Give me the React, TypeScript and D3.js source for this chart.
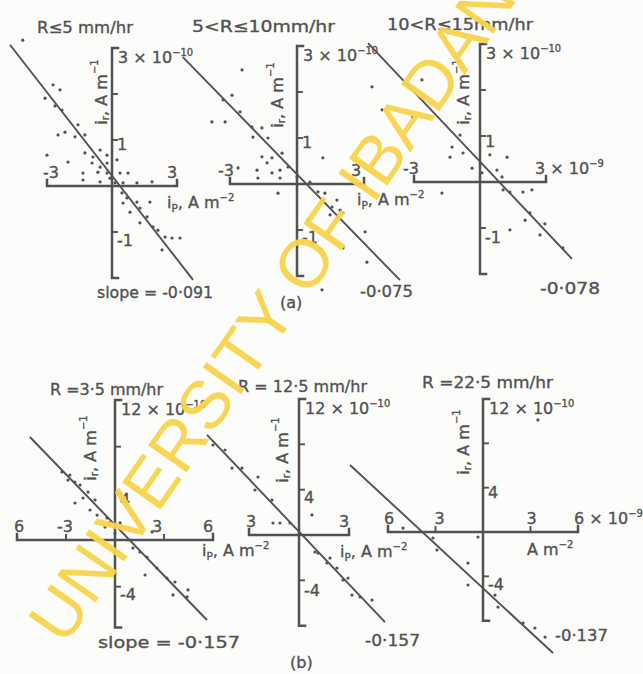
import React from 'react';
import * as d3 from 'd3';

type Pt = [number, number];

// i_r against i_p; x in units of 1e-9 A m^-2, y in units of 1e-10
const ptsA1: Pt[] = [
  [-4.12, 3.17], [-2.72, 2.2], [-2.4, 2.09], [-3.09, 1.91], [-2.63, 1.74], [-2.31, 1.65],
  [-1.57, 1.33], [-2.49, 1.11], [-2.17, 1.17], [-1.71, 1.07], [-1.25, 1.11], [-3.0, 0.67],
  [-2.03, 0.52], [-1.25, 0.72], [-0.88, 0.63], [-0.55, 0.78], [-0.23, 0.67], [-0.92, 0.5],
  [-0.55, 0.41], [-0.23, 0.5], [-0.65, 0.3], [0.23, 0.57], [-0.23, 0.28], [-0.09, 0.17],
  [0.37, 0.28], [0.74, 0.28], [-1.34, 0.28], [-1.34, 0.13], [-0.55, 0.09], [0.14, 0.07],
  [0.51, 0.07], [1.15, 0.07], [1.85, 0.09], [0.46, -0.15], [0.69, -0.26], [1.15, -0.35],
  [1.75, -0.35], [0.51, -0.37], [0.83, -0.57], [1.29, -0.48], [1.62, -0.67], [1.29, -0.8],
  [1.89, -0.89], [2.12, -0.96], [2.45, -1.11], [2.77, -1.13], [3.14, -1.13], [2.31, -1.39],
];
const ptsA2: Pt[] = [
  [-2.46, 2.48], [-2.91, 1.93], [-3.31, 1.83], [-3.81, 1.35], [-3.22, 1.35], [-2.55, 1.57],
  [-2.02, 1.24], [-1.57, 1.22], [-1.3, 1.0], [-1.97, 1.02], [-2.64, 0.35], [-1.57, 0.59],
  [-1.34, 0.46], [-1.12, 0.57], [-0.67, 0.67], [-1.79, 0.3], [-1.12, 0.24], [-0.76, 0.3],
  [-0.4, 0.37], [-1.75, 0.13], [-0.76, 0.13], [0.0, 0.15], [1.16, 0.57], [0.58, 0.04],
  [-0.85, -0.2], [0.94, -0.17], [1.25, -0.2], [1.79, -0.35], [1.57, -0.5], [1.93, -0.57],
  [1.48, -0.67], [1.84, -0.72], [2.06, -0.63], [0.49, -0.78], [3.05, -1.04], [2.06, -1.39],
  [3.13, -1.7], [1.12, -2.3],
];
const ptsA3: Pt[] = [
  [-4.91, 2.07], [-4.45, 1.57], [-3.05, 1.41], [-2.64, 2.22], [-1.27, 0.76], [-1.36, 0.54],
  [-0.77, 0.63], [-0.91, 1.02], [-0.36, 0.3], [0.09, 0.2], [0.45, 0.59], [1.23, 0.54],
  [0.77, 0.26], [1.0, 0.11], [1.05, -0.17], [1.36, -0.22], [1.95, -0.22], [2.36, -0.17],
  [-1.73, -0.24], [2.27, -0.67], [2.05, -0.83], [2.95, -0.91], [2.73, -1.15], [3.77, -1.43],
  [1.36, -1.04],
];
const ptsB1: Pt[] = [
  [-3.25, 5.83], [-2.76, 5.57], [-2.45, 4.97], [-2.14, 4.71], [-2.88, 5.14], [-1.65, 4.11],
  [-2.45, 3.17], [-1.96, 3.6], [-1.22, 3.43], [-1.53, 2.57], [-1.1, 2.14], [-0.49, 1.89],
  [-0.61, 1.11], [-0.31, 1.46], [0.31, 1.46], [0.0, 0.6], [1.35, 1.71], [2.27, 0.69],
  [1.1, -0.69], [1.53, -1.03], [1.96, -1.46], [1.84, -3.0], [2.57, -2.4], [3.18, -3.26],
  [3.67, -3.6], [3.55, -4.71], [4.47, -4.28], [4.41, -4.88],
];
const ptsB2: Pt[] = [
  [-5.16, 7.94], [-4.44, 7.5], [-4.02, 5.91], [-3.42, 5.91], [-2.46, 5.12], [-2.64, 3.97],
  [-1.62, 3.09], [-1.56, 1.06], [-1.14, 1.06], [-0.54, 1.06], [0.78, 1.77], [0.96, -1.5],
  [1.14, -1.59], [1.86, -2.03], [1.68, -2.47], [2.28, -2.91], [2.64, -3.97], [2.94, -3.8],
  [3.18, -5.3], [3.66, -5.47], [4.38, -5.74],
];
const ptsB3: Pt[] = [
  [-5.05, 0.36], [-3.16, -0.54], [-2.91, -1.62], [-0.95, -2.8], [-0.95, -4.78], [-0.32, -0.45],
  [0.76, -5.69], [0.95, -6.77], [2.53, -8.21], [3.28, -8.66], [3.92, -9.48], [3.47, 10.11],
];

// fitted regression lines, end points in the same units
const fitA1: Pt[] = [[-4.71, 3.07], [3.74, -2.04]];
const fitA2: Pt[] = [[-5.11, 2.76], [4.61, -2.09]];
const fitA3: Pt[] = [[-5.09, 3.02], [4.18, -1.67]];
const fitB1: Pt[] = [[-5.21, 8.83], [5.63, -6.86]];
const fitB2: Pt[] = [[-5.52, 8.83], [5.16, -7.68]];
const fitB3: Pt[] = [[-8.4, 6.05], [4.42, -10.92]];

const titles = ['R\u22645 mm/hr', '5<R\u226410mm/hr', '10<R\u226415mm/hr', 'R =3\u00b75 mm/hr', 'R = 12\u00b75 mm/hr', 'R =22\u00b75 mm/hr'];
const slopeTexts = ['slope = -0\u00b7091', '-0\u00b7075', '-0\u00b7078', 'slope =  -0\u00b7157', '-0\u00b7157', '-0\u00b7137'];

type TL = { v: number; t: string; sup?: string };
const yTicksA = [2, 1, -1];
const yTicksB = [8, 4, -4];
const yLabelsA: TL[] = [{ v: 1, t: '1' }, { v: -1, t: '-1' }];
const yLabelsB: TL[] = [{ v: 4, t: '4' }, { v: -4, t: '-4' }];
const yTopA: TL = { v: 3, t: '3 \u00d7 10', sup: '\u221210' };
const yTopB: TL = { v: 12, t: '12 \u00d7 10', sup: '\u221210' };
const xLabelsA: TL[] = [{ v: -3, t: '-3' }, { v: 3, t: '3' }];
const xLabelsA3: TL[] = [{ v: -3, t: '-3' }, { v: 3, t: '3 \u00d7 10', sup: '\u22129' }];
const xTicksB13 = [-3, 3];
const xLabelsB1: TL[] = [{ v: -6, t: '6' }, { v: -3, t: '-3' }, { v: 3, t: '3' }, { v: 6, t: '6' }];
const xLabelsB2: TL[] = [{ v: -3, t: '3' }, { v: 3, t: '3' }];
const xLabelsB3: TL[] = [{ v: -6, t: '6' }, { v: -3, t: '3' }, { v: 3, t: '3' }, { v: 6, t: '6 \u00d7 10', sup: '\u22129' }];

const INK = '#525252';
const FONT = 'DejaVu Sans, sans-serif';
const FS = 16;
const TEXT_STYLE = { stroke: INK, strokeWidth: 0.35 };

type Layout = {
  xd: [number, number]; xr: [number, number];
  yd: [number, number]; yr: [number, number];
  pts: Pt[]; fit: Pt[];
  title: string; tx: number; ty: number; tw: number;
  slope: string; sx: number; sy: number; sw: number;
  yl: [number, number]; xl?: { x: number; y: number; full: boolean };
  yTicks: number[]; yLabels: TL[]; yTop: TL;
  xTicks: number[]; xLabels: TL[]; xdx: number[];
  ylOff: number[];
};

const panels: Layout[] = [
  { xd: [-3, 3], xr: [47, 177], yd: [-2, 3], yr: [278, 48], pts: ptsA1, fit: fitA1,
    title: titles[0], tx: 37, ty: 33, tw: 96, slope: slopeTexts[0], sx: 97, sy: 298, sw: 116,
    yl: [101, 92], xl: { x: 167, y: 208, full: true }, yTicks: yTicksA, yLabels: yLabelsA, yTop: yTopA,
    xTicks: [], xLabels: xLabelsA, xdx: [4, -5], ylOff: [10, 14] },
  { xd: [-3, 3], xr: [230, 364], yd: [-2, 3], yr: [276, 46], pts: ptsA2, fit: fitA2,
    title: titles[1], tx: 192, ty: 32, tw: 143, slope: slopeTexts[1], sx: 360, sy: 297, sw: 53,
    yl: [277, 95], xl: { x: 357, y: 205, full: true }, yTicks: yTicksA, yLabels: yLabelsA, yTop: yTopA,
    xTicks: [], xLabels: xLabelsA, xdx: [-4, -8], ylOff: [10, 13] },
  { xd: [-3, 3], xr: [414, 546], yd: [-2, 3], yr: [274, 44], pts: ptsA3, fit: fitA3,
    title: titles[2], tx: 387, ty: 30, tw: 146, slope: slopeTexts[2], sx: 540, sy: 294, sw: 60,
    yl: [463, 92], yTicks: yTicksA, yLabels: yLabelsA, yTop: yTopA,
    xTicks: [], xLabels: xLabelsA3, xdx: [-3, -11], ylOff: [11, 15] },
  { xd: [-6, 6], xr: [17, 213], yd: [-7.5, 12], yr: [627.5, 400], pts: ptsB1, fit: fitB1,
    title: titles[3], tx: 50, ty: 395, tw: 113, slope: slopeTexts[3], sx: 98, sy: 648, sw: 142,
    yl: [90, 448], xl: { x: 202, y: 556, full: true }, yTicks: yTicksB, yLabels: yLabelsB, yTop: yTopB,
    xTicks: xTicksB13, xLabels: xLabelsB1, xdx: [2, -1, -7, -5], ylOff: [12, 13] },
  { xd: [-3, 3], xr: [249, 349], yd: [-8, 12], yr: [625.7, 399], pts: ptsB2, fit: fitB2,
    title: titles[4], tx: 238, ty: 392, tw: 129, slope: slopeTexts[4], sx: 365, sy: 646, sw: 55,
    yl: [282, 450], xl: { x: 340, y: 557, full: true }, yTicks: yTicksB, yLabels: yLabelsB, yTop: yTopB,
    xTicks: [], xLabels: xLabelsB2, xdx: [2, -5], ylOff: [13, 16] },
  { xd: [-6, 6], xr: [388, 578], yd: [-8, 12], yr: [620.7, 399], pts: ptsB3, fit: fitB3,
    title: titles[5], tx: 422, ty: 388, tw: 131, slope: slopeTexts[5], sx: 555, sy: 641, sw: 53,
    yl: [463, 442], xl: { x: 527, y: 555, full: false }, yTicks: yTicksB, yLabels: yLabelsB, yTop: yTopB,
    xTicks: xTicksB13, xLabels: xLabelsB3, xdx: [1, 4, 1, -4], ylOff: [10, 14] },
];

function Sup({ x, y, l, anchor = 'middle' }: { x: number; y: number; l: TL; anchor?: string }) {
  return (
    <text x={x} y={y} fontSize={FS} textAnchor={anchor} fill={INK} fontFamily={FONT} style={TEXT_STYLE}>
      {l.t}
      {l.sup && <tspan dy={-7} fontSize={FS * 0.62}>{l.sup}</tspan>}
    </text>
  );
}

function Panel({ p }: { p: Layout }) {
  const x = d3.scaleLinear().domain(p.xd).range(p.xr);
  const y = d3.scaleLinear().domain(p.yd).range(p.yr);
  const x0 = x(0);
  const y0 = y(0);
  const line = d3.line<Pt>().x((d) => x(d[0])).y((d) => y(d[1]));
  const yTopPx = y(p.yd[1]);
  const yBotPx = y(p.yd[0]);
  const xl = x(p.xd[0]);
  const xr = x(p.xd[1]);
  return (
    <g>
      <g stroke={INK} strokeWidth={2.5} fill="none" strokeLinecap="square">
        <path d={`M${x0 + 6},${yTopPx}H${x0}V${yBotPx}H${x0 + 6}`} />
        <path d={`M${xl},${y0 - 6}V${y0}H${xr}V${y0 - 6}`} />
        {p.yTicks.map((t) => (
          <line key={t} x1={x0} x2={x0 + 5} y1={y(t)} y2={y(t)} strokeWidth={1.9} />
        ))}
        {p.xTicks.map((t) => (
          <line key={t} x1={x(t)} x2={x(t)} y1={y0} y2={y0 - 5} strokeWidth={1.9} />
        ))}
      </g>
      <path d={line(p.fit) || ''} stroke={INK} strokeWidth={1.9} fill="none" />
      {p.pts.map((d, i) => (
        <circle key={i} cx={x(d[0])} cy={y(d[1])} r={1.6} fill={INK} />
      ))}
      <Sup x={x0 + 6} y={yTopPx + 15} l={p.yTop} anchor="start" />
      {p.yLabels.map((l, i) => (
        <Sup key={l.v} x={x0 + 5} y={y(l.v) + p.ylOff[i]} l={l} anchor="start" />
      ))}
      {p.xLabels.map((l, i) => (
        <Sup key={l.v} x={x(l.v) + p.xdx[i]} y={y0 - 8} l={l} anchor={l.sup ? 'start' : 'middle'} />
      ))}
      <text transform={`translate(${p.yl[0]},${p.yl[1]}) rotate(-90)`} textAnchor="middle" dominantBaseline="central"
        fontSize={FS} fill={INK} fontFamily={FONT} style={TEXT_STYLE}>
        i<tspan dy={4} fontSize={10.5}>r</tspan><tspan dy={-4}>, A m</tspan><tspan dy={-7} fontSize={10}>{'\u22121'}</tspan>
      </text>
      {p.xl && (
        <text x={p.xl.x} y={p.xl.y} fontSize={FS} fill={INK} fontFamily={FONT} style={TEXT_STYLE}>
          {p.xl.full ? (
            <>i<tspan dy={4} fontSize={10.5}>P</tspan><tspan dy={-4}>, A m</tspan></>
          ) : 'A m'}
          <tspan dy={-7} fontSize={10}>{'\u22122'}</tspan>
        </text>
      )}
      <text x={p.tx} y={p.ty} fontSize={FS} textLength={p.tw} lengthAdjust="spacingAndGlyphs" fill={INK} fontFamily={FONT} style={TEXT_STYLE}>{p.title}</text>
      <text x={p.sx} y={p.sy} fontSize={FS} textLength={p.sw} lengthAdjust="spacingAndGlyphs" fill={INK} fontFamily={FONT} style={TEXT_STYLE}>{p.slope}</text>
    </g>
  );
}

export default function App() {
  return (
    <div style={{ position: 'absolute', left: 0, top: 0 }}>
      <svg width={643} height={674} style={{ display: 'block', background: '#fcfcfb' }}>
        {panels.map((p, i) => (
          <Panel key={i} p={p} />
        ))}
        <text x={280} y={308} fontSize={FS} fill={INK} fontFamily={FONT} style={TEXT_STYLE}>(a)</text>
        <text x={290} y={668} fontSize={FS} fill={INK} fontFamily={FONT} style={TEXT_STYLE}>(b)</text>
        <text transform="translate(64,647) rotate(-55)" fontFamily="Liberation Sans, Arial, sans-serif" fontSize={68}
          fill="#f8d54c" opacity={0.95}>
          UNIVERSITY OF IBADAN LIBRARY
        </text>
      </svg>
    </div>
  );
}
